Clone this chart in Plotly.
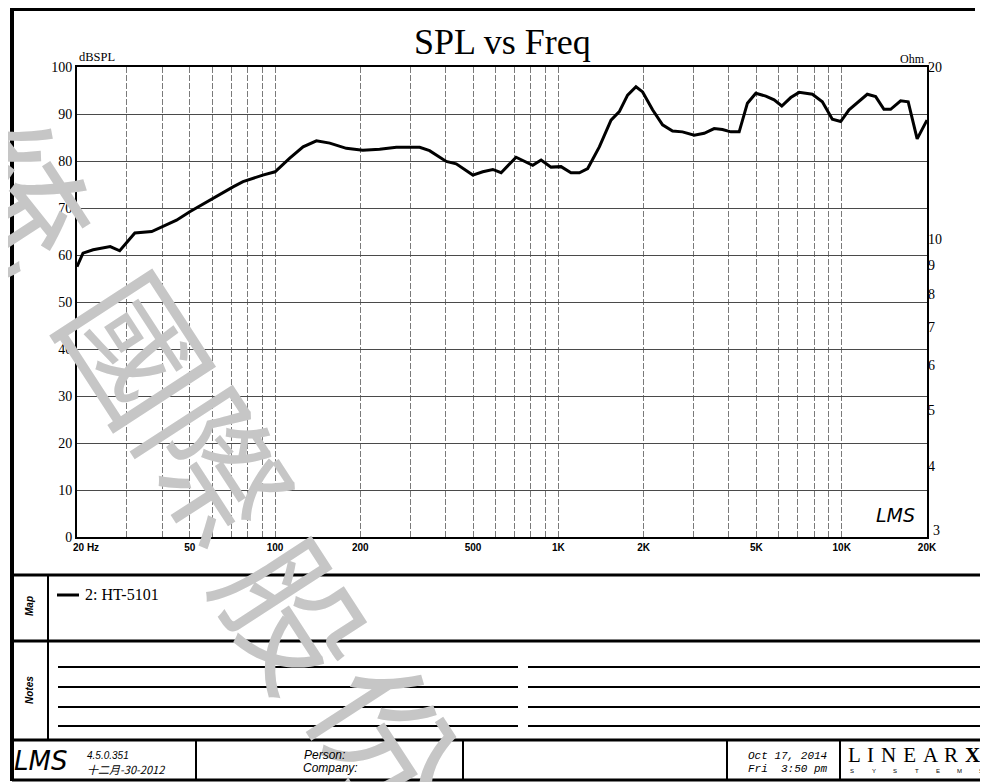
import math
import plotly.graph_objects as go

# ---------------- data ----------------
freq_hz = [20, 21.0, 22.8, 26.2, 28.3, 32.0, 36.7, 44.9, 50, 58.9, 71.1, 77.1, 90.5, 100,
           112.7, 125.6, 140, 156, 178.5, 204, 234, 268, 324, 351, 402, 436, 499, 541,
           587, 628, 709, 812, 869, 942, 1022, 1108, 1186, 1269, 1395, 1534, 1641, 1755,
           1879, 1983, 2150, 2332, 2529, 2742, 3016, 3271, 3547, 3794, 4062, 4346, 4647,
           4975, 5397, 5773, 6145, 6611, 7073, 7880, 8543, 9266, 9919, 10611, 11507,
           12309, 13177, 14094, 14883, 16143, 17166, 18461, 20000]
spl_db = [57.5, 60.4, 61.1, 61.8, 60.9, 64.7, 65.0, 67.4, 69.2, 71.7, 74.5, 75.6, 77.0, 77.7,
          80.6, 83.0, 84.3, 83.8, 82.7, 82.3, 82.5, 82.9, 82.9, 82.2, 79.9, 79.4, 77.0, 77.7,
          78.2, 77.5, 80.8, 79.1, 80.2, 78.7, 78.8, 77.5, 77.5, 78.4, 83.0, 88.7, 90.5, 94.0,
          95.8, 94.7, 90.9, 87.7, 86.4, 86.2, 85.5, 85.9, 86.9, 86.7, 86.2, 86.2, 92.3,
          94.4, 93.8, 93.0, 91.7, 93.5, 94.6, 94.2, 92.6, 88.9, 88.4, 90.9, 92.8,
          94.2, 93.7, 91.0, 91.0, 92.8, 92.6, 84.7, 88.7]

grid_freqs = [20, 30, 40, 50, 60, 70, 80, 90, 100, 200, 300, 400, 500, 600, 700, 800, 900,
              1000, 2000, 3000, 4000, 5000, 6000, 7000, 8000, 9000, 10000, 20000]
freq_labels = {50: "50", 100: "100", 200: "200", 500: "500", 1000: "1K", 2000: "2K",
               5000: "5K", 10000: "10K", 20000: "20K"}
spl_ticks = [0, 10, 20, 30, 40, 50, 60, 70, 80, 90, 100]
ohm_ticks = [3, 4, 5, 6, 7, 8, 9, 10, 20]
ohm_labels = ["3", "4", "5", "6", "7", "8", "9", "10", "20"]

title_text = "SPL vs Freq"
legend_text = "2: HT-5101"
watermark = "統國際股份"

# ---------------- layout helpers ----------------
# the page body has an 8px default margin, so the figure starts at (8, 8)
OFF = 8
W, H = 988 - OFF, 782 - OFF


def px(x):
    return (x - OFF) / W


def py(y):
    return 1 - (y - OFF) / H


fig = go.Figure()
fig.add_trace(go.Scatter(x=freq_hz, y=spl_db, mode="lines",
                         line=dict(color="black", width=3),
                         showlegend=False, hoverinfo="skip"))
fig.add_trace(go.Scatter(x=[freq_hz[0]], y=[ohm_ticks[0]], yaxis="y2", mode="markers",
                         marker=dict(opacity=0), showlegend=False, hoverinfo="skip"))

serif = "Liberation Serif, Times New Roman, serif"
sans = "Liberation Sans, Arial, sans-serif"
mono = "Liberation Mono, Courier New, monospace"

fig.update_layout(
    width=W, height=H,
    margin=dict(l=0, r=0, t=0, b=0, autoexpand=False),
    paper_bgcolor="white", plot_bgcolor="white",
    xaxis=dict(type="log", domain=[px(77), px(927)],
               range=[math.log10(20), math.log10(20000)],
               tickmode="array", tickvals=grid_freqs,
               ticktext=["" if f == 20 else freq_labels.get(f, "") for f in grid_freqs],
               tickfont=dict(family=sans, size=10, color="black", weight="bold"),
               showgrid=True, gridcolor="#7a7a7a", gridwidth=1, griddash="6px,2px",
               showline=True, linecolor="black", linewidth=2, mirror=True,
               ticks="", zeroline=False, automargin=False),
    yaxis=dict(domain=[py(537), py(67)], range=[0, 100],
               tickmode="array", tickvals=spl_ticks,
               tickfont=dict(family=serif, size=14, color="black"),
               showgrid=True, gridcolor="#4a4a4a", gridwidth=1,
               showline=True, linecolor="black", linewidth=2, mirror=True,
               ticks="", zeroline=False, automargin=False),
    yaxis2=dict(overlaying="y", side="right", anchor="x", type="log",
                range=[math.log10(3), math.log10(20)],
                tickmode="array", tickvals=ohm_ticks[1:], ticktext=ohm_labels[1:],
                tickfont=dict(family=serif, size=14, color="black"),
                showgrid=False, showline=False, ticks="", zeroline=False,
                automargin=False),
)

shapes = []


def hline(y, x0, x1, w=3):
    shapes.append(dict(type="line", xref="paper", yref="paper",
                       x0=px(x0), x1=px(x1), y0=py(y), y1=py(y),
                       line=dict(color="black", width=w)))


def vline(x, y0, y1, w=3):
    shapes.append(dict(type="line", xref="paper", yref="paper",
                       x0=px(x), x1=px(x), y0=py(y0), y1=py(y1),
                       line=dict(color="black", width=w)))


# page frame
hline(9, 10, 975, 4)
vline(12, 8, 781, 4)
hline(575, 12, 988, 3)
hline(641, 12, 988, 3)
hline(740, 12, 988, 3)
hline(780, 12, 988, 3)
vline(48, 575, 740, 2)
for xs in (196, 463, 727, 840):
    vline(xs, 740, 780, 2)
# notes lines
for yy in (667, 687, 707, 726):
    hline(yy, 58, 518, 2)
    hline(yy, 528, 985, 2)
# legend sample line
hline(595, 57, 79, 3)
fig.update_layout(shapes=shapes)

ann = []


def text(x, y, s, size, family=sans, xanchor="left", color="black", angle=0, **kw):
    ann.append(dict(xref="paper", yref="paper", x=px(x), y=py(y), text=s,
                    showarrow=False, xanchor=xanchor, yanchor="middle",
                    textangle=angle, font=dict(family=family, size=size, color=color, **kw)))


# watermark characters (drawn first, page text on top)
wm_pos = [(24, 192), (142, 345), (222, 462), (298, 610), (392, 733)]
for ch, (wx, wy) in zip(watermark, wm_pos):
    text(wx, wy, ch, 140, "Noto Sans CJK TC, sans-serif", xanchor="center",
         color="#c6c6c6", angle=57)

text(503, 42, title_text, 36, serif, xanchor="center")
text(77, 57, "dBSPL", 12.5, serif)
text(927, 59, "Ohm", 12, serif, xanchor="right")
text(931, 530, ohm_labels[0], 14, serif)
text(83, 594, legend_text, 16, serif)
text(29, 606, "Map", 10, sans, xanchor="center", angle=-90, style="italic", weight="bold")
text(29, 690, "Notes", 10, sans, xanchor="center", angle=-90, style="italic", weight="bold")
text(895, 515, "LMS", 19, "DejaVu Sans", xanchor="center", style="italic")
text(40, 761, "LMS", 26, "DejaVu Sans", xanchor="center", style="italic")
text(85, 755, "4.5.0.351", 10, sans, style="italic")
text(85, 769, "十二月-30-2012", 11, "Noto Sans CJK SC, sans-serif", style="italic")
text(302, 755, "Person:", 12, sans, style="italic")
text(301, 768, "Company:", 12, sans, style="italic")
text(746, 756, "Oct 17, 2014", 11, mono, style="italic")
text(746, 769, "Fri  3:50 pm".replace("  ", "\u00a0\u00a0"), 11, mono, style="italic")
text(846, 755, " \u200a".join("LINEAR") + " \u200a<b>X</b>", 21, serif)
for i, ch in enumerate("SYSTEMS"):
    text(852 + i * 21.5, 771, ch, 6, sans, xanchor="center")

# "20 Hz" start label
ann.append(dict(xref="x", yref="paper", x=math.log10(freq_hz[0]), y=py(547),
                text="20 Hz", showarrow=False, xanchor="left", yanchor="middle",
                xshift=-6, font=dict(family=sans, size=10, color="black", weight="bold")))

fig.update_layout(annotations=ann)

fig.write_html("out.html")
